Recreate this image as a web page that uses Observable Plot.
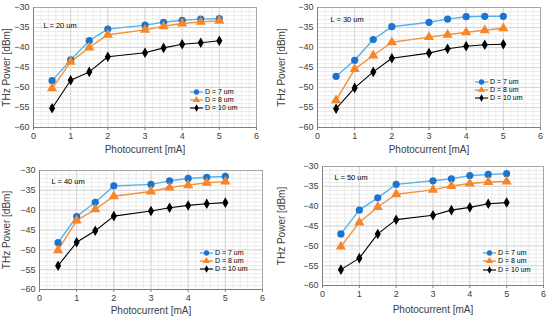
<!DOCTYPE html>
<html>
<head>
<meta charset="utf-8">
<script src="https://cdn.jsdelivr.net/npm/d3@7"></script>
<script src="https://cdn.jsdelivr.net/npm/@observablehq/plot@0.6"></script>
<style>
  body { margin: 0; background: #fff; }
  #wrap { position: relative; width: 550px; height: 320px; overflow: hidden; }
  .panel { position: absolute; width: 275px; height: 160px; }
</style>
</head>
<body>
<div id="wrap"></div>
<script>
// ---------------- data ----------------
const current = [0.5, 1, 1.5, 2, 3, 3.5, 4, 4.5, 5];
const seriesNames = ["D = 7 um", "D = 8 um", "D = 10 um"];
const panelLabels = ["L = 20 um", "L = 30 um", "L = 40 um", "L = 50 um"];
const xTicks = [0, 1, 2, 3, 4, 5, 6];
const yTicks = [-60, -55, -50, -45, -40, -35, -30];

const L20_D7  = [-48.3, -43.1, -38.3, -35.4, -34.4, -33.7, -33.2, -32.9, -32.8];
const L20_D8  = [-50.2, -43.6, -40.0, -36.8, -35.6, -34.7, -34.0, -33.6, -33.3];
const L20_D10 = [-55.2, -48.2, -46.1, -42.3, -41.3, -40.1, -39.2, -38.8, -38.3];

const L30_D7  = [-47.2, -43.2, -38.0, -34.8, -33.7, -32.9, -32.3, -32.2, -32.2];
const L30_D8  = [-53.2, -45.4, -42.0, -38.7, -37.4, -36.8, -36.2, -35.7, -35.2];
const L30_D10 = [-55.3, -50.1, -46.1, -42.7, -41.4, -40.3, -39.7, -39.3, -39.2];

const L40_D7  = [-48.2, -41.6, -38.0, -33.9, -33.5, -32.6, -32.0, -31.7, -31.5];
const L40_D8  = [-50.1, -42.6, -39.8, -36.5, -35.3, -34.3, -33.7, -33.1, -32.8];
const L40_D10 = [-54.0, -48.1, -45.2, -41.5, -40.2, -39.4, -38.8, -38.4, -38.1];

const L50_D7  = [-47.0, -41.0, -37.9, -34.5, -33.6, -33.1, -32.3, -32.0, -31.8];
const L50_D8  = [-50.2, -44.1, -40.2, -37.0, -35.9, -34.9, -34.3, -33.9, -33.8];
const L50_D10 = [-56.0, -53.1, -47.0, -43.4, -42.3, -41.0, -40.3, -39.4, -39.1];

// ---------------- styling ----------------
const lineColors   = ["#58b3ea", "#f5913a", "#000000"];
const markerColors = ["#1d74cf", "#f5862a", "#000000"];
const symbols = ["circle", "triangle", "diamond"];
const markerR = [3.6, 3.8, 3.2];
const FONT = "'Liberation Sans', Arial, sans-serif";
const fmt = d => (d < 0 ? "\u2212" + Math.abs(d) : String(d));

const panels = [
  {left: 0,   top: 0,   m: [7, 19, 33, 33],  labelOffX: 25, series: [L20_D7, L20_D8, L20_D10], legend: {dx: -66, dy: [-35, -27, -19]}, text: {dx: 10, dy: 15}},
  {left: 275, top: 0,   m: [7, 10, 33, 42],  labelOffX: 25, series: [L30_D7, L30_D8, L30_D10], legend: {dx: -65, dy: [-45, -37, -29]}, text: {dx: 13, dy: 9}},
  {left: 0,   top: 160, m: [10, 13, 31, 39], labelOffX: 24, series: [L40_D7, L40_D8, L40_D10], legend: {dx: -62, dy: [-36, -28, -20]}, text: {dx: 12, dy: 8}},
  {left: 275, top: 160, m: [6, 7, 35, 47],   labelOffX: 27, series: [L50_D7, L50_D8, L50_D10], legend: {dx: -60, dy: [-32, -24, -15]}, text: {dx: 12, dy: 8}}
];

const wrap = document.getElementById("wrap");

panels.forEach((p, pi) => {
  const rows = [];
  p.series.forEach((vals, si) => {
    vals.forEach((v, i) => rows.push({x: current[i], y: v, s: si}));
  });
  const [mt, mr, mb, ml] = p.m;

  const marks = [
    Plot.gridX(d3.range(0, 6.001, 0.2), {stroke: "#ececec", strokeOpacity: 1}),
    Plot.gridY(d3.range(-60, -29.5, 1), {stroke: "#ececec", strokeOpacity: 1}),
    Plot.gridX(xTicks, {stroke: "#d6d6d6", strokeOpacity: 1}),
    Plot.gridY(yTicks, {stroke: "#d6d6d6", strokeOpacity: 1}),
    Plot.frame({stroke: "#a6a6a6"}),
    Plot.ruleX([0], {stroke: "#7f7f7f"}),
    Plot.ruleY([-60], {stroke: "#7f7f7f"}),
    Plot.axisX({ticks: xTicks, tickSize: 3, stroke: "#7f7f7f", fill: "#404040", tickFormat: fmt,
                label: "Photocurrent [mA]", labelAnchor: "center", labelArrow: "none", labelOffset: p.labelOffX, tickPadding: 2}),
    Plot.axisY({ticks: yTicks, tickSize: 0, fill: "#404040", tickPadding: 4, tickFormat: fmt,
                label: "THz Power [dBm]", labelAnchor: "center", labelArrow: "none", labelOffset: ml - 2}),
  ];
  [0, 1, 2].forEach(si => {
    const d = rows.filter(r => r.s === si);
    marks.push(Plot.line(d, {x: "x", y: "y", stroke: lineColors[si], strokeWidth: si === 2 ? 1.1 : 1.4}));
  });
  [0, 1, 2].forEach(si => {
    const d = rows.filter(r => r.s === si);
    marks.push(Plot.dot(d, {x: "x", y: "y", symbol: () => symbols[si], fill: markerColors[si], stroke: "none", r: markerR[si]}));
  });
  marks.push(Plot.text([panelLabels[pi]], {frameAnchor: "top-left", dx: p.text.dx, dy: p.text.dy, text: d => d,
                                            fontSize: 7.5, fill: "#000", textAnchor: "start"}));

  const chart = Plot.plot({
    width: 275, height: 160,
    marginTop: mt, marginRight: mr, marginBottom: mb, marginLeft: ml,
    x: {domain: [0, 6]},
    y: {domain: [-60, -30]},
    symbol: {type: "identity"},
    style: {fontFamily: FONT, fontSize: "9px", background: "transparent", color: "#404040"},
    marks
  });

  const svg = d3.select(chart);
  svg.selectAll('[aria-label="x-axis label"], [aria-label="y-axis label"]')
     .attr("font-size", 10).attr("fill", "#404040");

  // legend drawn inside the plot frame
  const right = 275 - mr, bottom = 160 - mb;
  const g = svg.append("g").attr("font-family", FONT).attr("font-size", 7).attr("text-anchor", "start");
  seriesNames.forEach((name, si) => {
    const x0 = right + p.legend.dx, y0 = bottom + p.legend.dy[si];
    g.append("line").attr("x1", x0).attr("x2", x0 + 13).attr("y1", y0).attr("y2", y0)
      .attr("stroke", lineColors[si]).attr("stroke-width", si === 2 ? 1.1 : 1.4);
    const sym = [d3.symbolCircle, d3.symbolTriangle, d3.symbolDiamond][si];
    g.append("path").attr("d", d3.symbol(sym, [22, 22, 16][si])())
      .attr("transform", `translate(${x0 + 6.5},${y0})`).attr("fill", markerColors[si]);
    g.append("text").attr("x", x0 + 15).attr("y", y0).attr("dy", "0.35em")
      .attr("text-anchor", "start").attr("fill", "#000").text(name);
  });

  const div = document.createElement("div");
  div.className = "panel";
  div.style.left = p.left + "px";
  div.style.top = p.top + "px";
  div.appendChild(chart);
  wrap.appendChild(div);
});
</script>
</body>
</html>
